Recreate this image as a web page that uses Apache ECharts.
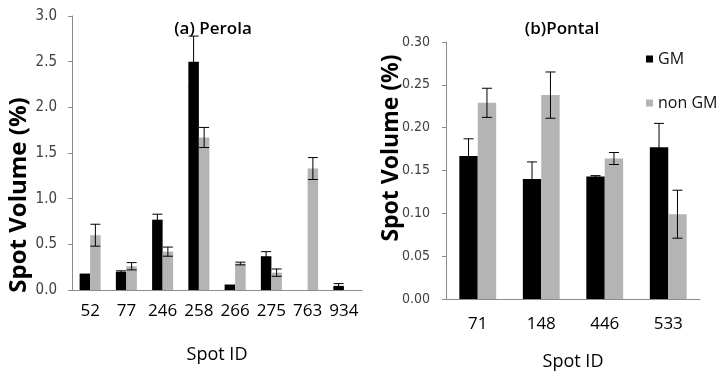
<!DOCTYPE html>
<html>
<head>
<meta charset="utf-8">
<script src="https://cdn.jsdelivr.net/npm/echarts@6/dist/echarts.min.js"></script>
<style>
  html, body { margin: 0; padding: 0; background: #fff; }
  #main { width: 718px; height: 376px; }
</style>
</head>
<body>
<div id="main"></div>
<script>
// (a) Perola
const perolaSpots = ['52', '77', '246', '258', '266', '275', '763', '934'];
const perolaGM = [0.18, 0.20, 0.77, 2.50, 0.06, 0.37, 0, 0.045];
const perolaGMErr = [0, 0.01, 0.06, 0.28, 0, 0.05, 0, 0.025];
const perolaNonGM = [0.60, 0.26, 0.42, 1.67, 0.29, 0.19, 1.33, 0];
const perolaNonGMErr = [0.12, 0.04, 0.05, 0.11, 0.015, 0.04, 0.12, 0];

// (b) Pontal
const pontalSpots = ['71', '148', '446', '533'];
const pontalGM = [0.167, 0.140, 0.143, 0.177];
const pontalGMErr = [0.020, 0.020, 0.001, 0.028];
const pontalNonGM = [0.229, 0.238, 0.164, 0.099];
const pontalNonGMErr = [0.017, 0.027, 0.007, 0.028];

const BAR_W = 0.29;
const GM_COLOR = '#000000';
const NON_COLOR = '#b4b4b4';
const NARROW = "'Liberation Sans Narrow', 'DejaVu Sans Condensed', sans-serif";
const MAIN_FONT = "'Open Sans', sans-serif";

function errData(vals, errs) {
  return vals.map((v, i) => [i, v, errs[i]]);
}

// side: -1 for left bar of the pair, +1 for the right bar
function errRenderer(side) {
  return function (params, api) {
    const e = api.value(2);
    if (!e) return null;
    const i = api.value(0);
    const v = api.value(1);
    const band = api.size([1, 0])[0];
    const x = api.coord([i, v])[0] + side * band * BAR_W / 2;
    const yTop = api.coord([i, v + e])[1];
    const yBot = api.coord([i, v - e])[1];
    const cap = 5;
    const st = { stroke: '#000', lineWidth: 1 };
    return {
      type: 'group',
      children: [
        { type: 'line', shape: { x1: x, y1: yTop, x2: x, y2: yBot }, style: st },
        { type: 'line', shape: { x1: x - cap, y1: yTop, x2: x + cap, y2: yTop }, style: st },
        { type: 'line', shape: { x1: x - cap, y1: yBot, x2: x + cap, y2: yBot }, style: st }
      ]
    };
  };
}

function xAxisFor(idx, cats, margin, nameGap) {
  return {
    type: 'category',
    gridIndex: idx,
    data: cats,
    name: 'Spot ID',
    nameLocation: 'middle',
    nameGap: nameGap,
    nameTextStyle: { fontFamily: MAIN_FONT, fontSize: 18, color: '#000' },
    axisLine: { lineStyle: { color: '#8c8c8c', width: 1 } },
    axisTick: { length: 6, lineStyle: { color: '#8c8c8c' } },
    axisLabel: { fontFamily: MAIN_FONT, fontSize: 17, color: '#000', margin: margin, interval: 0 },
    splitLine: { show: false }
  };
}

function yAxisFor(idx, max, interval, digits, fontSize, margin) {
  return {
    type: 'value',
    gridIndex: idx,
    min: 0,
    max: max,
    interval: interval,
    axisLine: { show: true, lineStyle: { color: '#8c8c8c', width: 1 } },
    axisTick: { show: true, length: 4, lineStyle: { color: '#8c8c8c' } },
    axisLabel: {
      fontFamily: NARROW, fontSize: fontSize, color: '#404040', margin: margin,
      formatter: v => v.toFixed(digits)
    },
    splitLine: { show: false }
  };
}

const chart = echarts.init(document.getElementById('main'));
chart.setOption({
  animation: false,
  backgroundColor: '#fff',
  title: [
    {
      text: '(a) Perola', left: 208, top: 16, textAlign: 'center',
      textStyle: { fontFamily: MAIN_FONT, fontSize: 17, fontWeight: 600, color: '#000' }
    },
    {
      text: '(b)Pontal', left: 557, top: 16, textAlign: 'center',
      textStyle: { fontFamily: MAIN_FONT, fontSize: 17, fontWeight: 600, color: '#000' }
    }
  ],
  legend: {
    data: ['GM', 'non GM'],
    orient: 'vertical',
    left: 641,
    top: 46,
    icon: 'rect',
    itemWidth: 7,
    itemHeight: 7,
    itemGap: 28,
    textStyle: { fontFamily: MAIN_FONT, fontSize: 16, color: '#111' }
  },
  grid: [
    { left: 72, top: 16, width: 290, height: 274 },
    { left: 446, top: 42, width: 254, height: 258 }
  ],
  xAxis: [
    xAxisFor(0, perolaSpots, 13, 56),
    xAxisFor(1, pontalSpots, 17, 54)
  ],
  yAxis: [
    yAxisFor(0, 3, 0.5, 1, 15, 15),
    yAxisFor(1, 0.3, 0.05, 2, 14, 16)
  ],
  graphic: [
    {
      type: 'text', x: 19, y: 195, rotation: Math.PI / 2,
      style: {
        text: 'Spot Volume (%)', fill: '#000', align: 'center', verticalAlign: 'middle',
        font: "bold 24px 'Open Sans', sans-serif"
      }
    },
    {
      type: 'text', x: 391, y: 148, rotation: Math.PI / 2,
      style: {
        text: 'Spot Volume (%)', fill: '#000', align: 'center', verticalAlign: 'middle',
        font: "bold 23px 'Open Sans', sans-serif"
      }
    }
  ],
  series: [
    { name: 'GM', type: 'bar', xAxisIndex: 0, yAxisIndex: 0, data: perolaGM,
      barWidth: '29%', barGap: '0%', itemStyle: { color: GM_COLOR } },
    { name: 'non GM', type: 'bar', xAxisIndex: 0, yAxisIndex: 0, data: perolaNonGM,
      barWidth: '29%', barGap: '0%', itemStyle: { color: NON_COLOR } },
    { name: 'GM', type: 'bar', xAxisIndex: 1, yAxisIndex: 1, data: pontalGM,
      barWidth: '29%', barGap: '0%', itemStyle: { color: GM_COLOR } },
    { name: 'non GM', type: 'bar', xAxisIndex: 1, yAxisIndex: 1, data: pontalNonGM,
      barWidth: '29%', barGap: '0%', itemStyle: { color: NON_COLOR } },
    { type: 'custom', xAxisIndex: 0, yAxisIndex: 0, z: 5,
      data: errData(perolaGM, perolaGMErr), renderItem: errRenderer(-1) },
    { type: 'custom', xAxisIndex: 0, yAxisIndex: 0, z: 5,
      data: errData(perolaNonGM, perolaNonGMErr), renderItem: errRenderer(1) },
    { type: 'custom', xAxisIndex: 1, yAxisIndex: 1, z: 5,
      data: errData(pontalGM, pontalGMErr), renderItem: errRenderer(-1) },
    { type: 'custom', xAxisIndex: 1, yAxisIndex: 1, z: 5,
      data: errData(pontalNonGM, pontalNonGMErr), renderItem: errRenderer(1) }
  ]
});
</script>
</body>
</html>
